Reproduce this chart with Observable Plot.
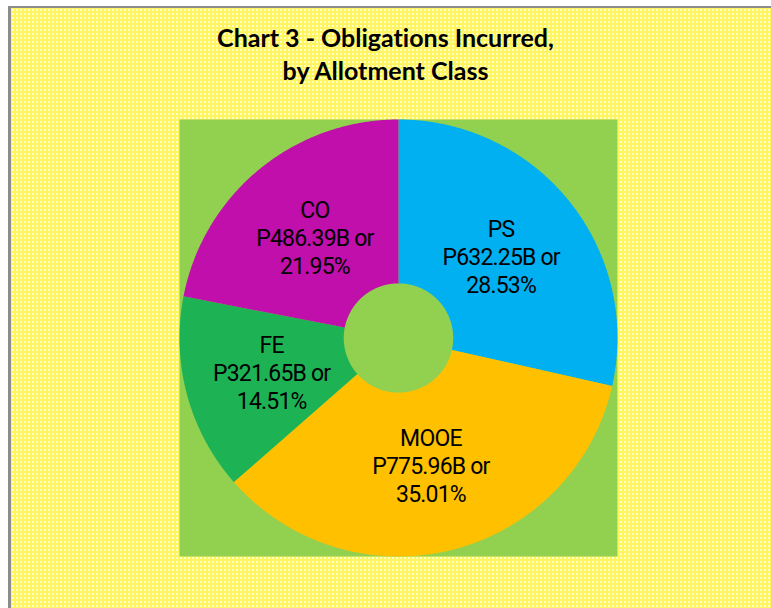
<!DOCTYPE html>
<html>
<head>
<meta charset="utf-8">
<script src="https://cdn.jsdelivr.net/npm/d3@7"></script>
<script src="https://cdn.jsdelivr.net/npm/@observablehq/plot@0.6"></script>
<style>
  html, body { margin: 0; padding: 0; width: 771px; height: 608px; overflow: hidden; background: #fff; }
  #page {
    position: absolute; left: 8px; top: 6px; width: 800px; height: 640px;
    border-left: 3px solid #8c8c8c; border-top: 2px solid #8c8c8c;
    background-color: #fff55e;
    background-image: radial-gradient(circle, rgba(255,255,215,0.9) 0.9px, transparent 1.4px);
    background-size: 4px 4px;
  }
  #title {
    position: absolute; left: 0; top: 21px; width: 771px; text-align: center;
    font-family: Lato, "Open Sans", sans-serif; font-weight: bold; font-size: 25px;
    font-variant-ligatures: none; line-height: 33px; color: #000;
  }
  #chart { position: absolute; left: 0; top: 110px; }
</style>
</head>
<body>
<div id="page"></div>
<div id="title">Chart 3 - Obligations Incurred,<br>by Allotment Class</div>
<div id="chart"></div>
<script>
const categories = ["PS", "MOOE", "FE", "CO"];
const values = [632.25, 775.96, 321.65, 486.39];
const percents = ["28.53", "35.01", "14.51", "21.95"];
const colors = ["#00B0F0", "#FFC000", "#1DB355", "#C00FAA"];

const innerRatio = 0.25;
const labelRadius = 0.6;

const rows = categories.map((c, i) => ({name: c, value: values[i], pct: percents[i]}));
const arcs = d3.pie().sort(null).value(d => d.value)(rows);

// polygon outline of each annular slice, in data units
const outline = [];
for (const a of arcs) {
  const n = Math.max(2, Math.ceil((a.endAngle - a.startAngle) / 0.005));
  for (let k = 0; k <= n; k++) {
    const t = a.startAngle + (a.endAngle - a.startAngle) * k / n;
    outline.push({name: a.data.name, x: Math.sin(t), y: Math.cos(t)});
  }
  for (let k = n; k >= 0; k--) {
    const t = a.startAngle + (a.endAngle - a.startAngle) * k / n;
    outline.push({name: a.data.name, x: innerRatio * Math.sin(t), y: innerRatio * Math.cos(t)});
  }
}

const labels = arcs.map(a => {
  const m = (a.startAngle + a.endAngle) / 2;
  return {
    x: labelRadius * Math.sin(m),
    y: labelRadius * Math.cos(m),
    text: `${a.data.name}\nP${a.data.value.toFixed(2)}B or\n${a.data.pct}%`
  };
});

const chart = Plot.plot({
  width: 771,
  height: 498,
  marginLeft: 179,
  marginRight: 154,
  marginTop: 9,
  marginBottom: 52,
  x: {domain: [-1, 1], axis: null},
  y: {domain: [-1, 1], axis: null},
  color: {type: "ordinal", domain: categories, range: colors},
  style: {background: "transparent", overflow: "visible", letterSpacing: "-0.8px"},
  marks: [
    Plot.frame({fill: "#92D050", stroke: null}),
    Plot.line(outline, {x: "x", y: "y", z: "name", fill: "name", stroke: null, curve: "linear-closed"}),
    Plot.text(labels, {
      x: "x", y: "y", text: "text",
      fontFamily: "Roboto, sans-serif",
      fontSize: 23, lineHeight: 1.22, fill: "#000"
    })
  ]
});
document.getElementById("chart").appendChild(chart);
</script>
</body>
</html>
